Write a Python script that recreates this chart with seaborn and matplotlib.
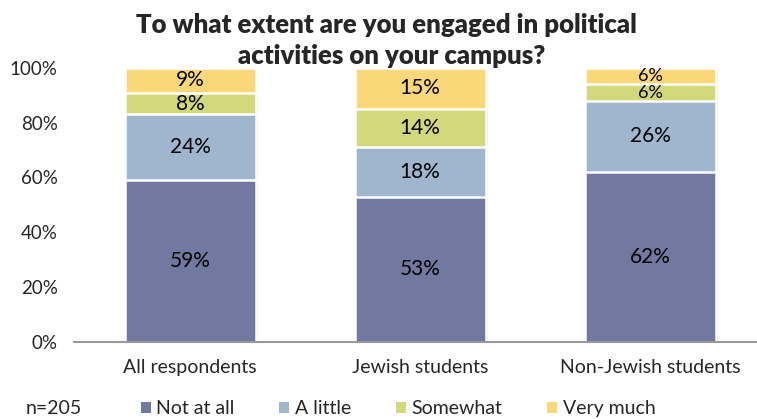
import matplotlib
matplotlib.use("Agg")
import matplotlib.pyplot as plt
import matplotlib.patheffects as pe
from matplotlib.patches import Patch
import numpy as np
import pandas as pd
import seaborn as sns

groups = ["All respondents", "Jewish students", "Non-Jewish students"]
series = ["Not at all", "A little", "Somewhat", "Very much"]
not_at_all = [59, 53, 62]
a_little = [24, 18, 26]
somewhat = [8, 14, 6]
very_much = [9, 15, 6]
colors = ["#7179A0", "#A0B6CE", "#D3D97A", "#FAD87A"]
y_ticks = [0, 20, 40, 60, 80, 100]

sns.set_theme(style="white")
plt.rcParams["font.family"] = ["Lato", "DejaVu Sans"]

values = [not_at_all, a_little, somewhat, very_much]
cum = np.cumsum(np.array(values), axis=0)

fig = plt.figure(figsize=(7.57, 4.19), dpi=100)
ax = fig.add_axes([0.098, 0.184, 0.902, 0.654])

# draw from the top layer down so each cumulative bar shows its own segment
shadow = [pe.SimplePatchShadow(offset=(2, -1), shadow_rgbFace="#999999", alpha=0.35), pe.Normal()]
for i in range(len(series) - 1, -1, -1):
    df = pd.DataFrame({"group": groups, "total": cum[i]})
    sns.barplot(data=df, x="group", y="total", color=colors[i], width=0.57,
                edgecolor="white", linewidth=1.8, saturation=1, ax=ax)

for p in ax.patches:
    p.set_path_effects(shadow)

for i, vals in enumerate(values):
    for j, v in enumerate(vals):
        center = cum[i][j] - v / 2
        size = 15 if v >= 8 else 13
        ax.text(j, center, f"{v}%", ha="center", va="center", fontsize=size, color="black")

ax.set_ylim(0, 100)
ax.set_xlim(-0.504, 2.465)
ax.set_yticks(y_ticks)
ax.set_yticklabels([f"{t}%" for t in y_ticks], fontsize=13.5)
ax.tick_params(axis="x", labelsize=14, pad=12, length=0)
ax.tick_params(axis="y", length=0, pad=12)
ax.set_xlabel("")
ax.set_ylabel("")
for s in ["left", "right", "top"]:
    ax.spines[s].set_visible(False)
ax.spines["bottom"].set_color("#999999")
ax.spines["bottom"].set_linewidth(1.5)

fig.text(0.51, 1 - 33 / 419, "To what extent are you engaged in political",
         ha="center", va="baseline", fontsize=18.5, fontweight="heavy")
fig.text(0.518, 1 - 64 / 419, "activities on your campus?",
         ha="center", va="baseline", fontsize=18.5, fontweight="heavy")

handles = [Patch(facecolor=c, edgecolor="none") for c in colors]
fig.legend(handles, series, loc="center left", bbox_to_anchor=(0.186, 0.024), ncol=4,
           frameon=False, fontsize=14, handlelength=0.5, handleheight=0.5,
           handletextpad=0.3, columnspacing=2.3, borderpad=0, borderaxespad=0)
fig.text(0.034, 0.024, "n=205", ha="left", va="center", fontsize=14)

fig.savefig("out.png", dpi=100)
